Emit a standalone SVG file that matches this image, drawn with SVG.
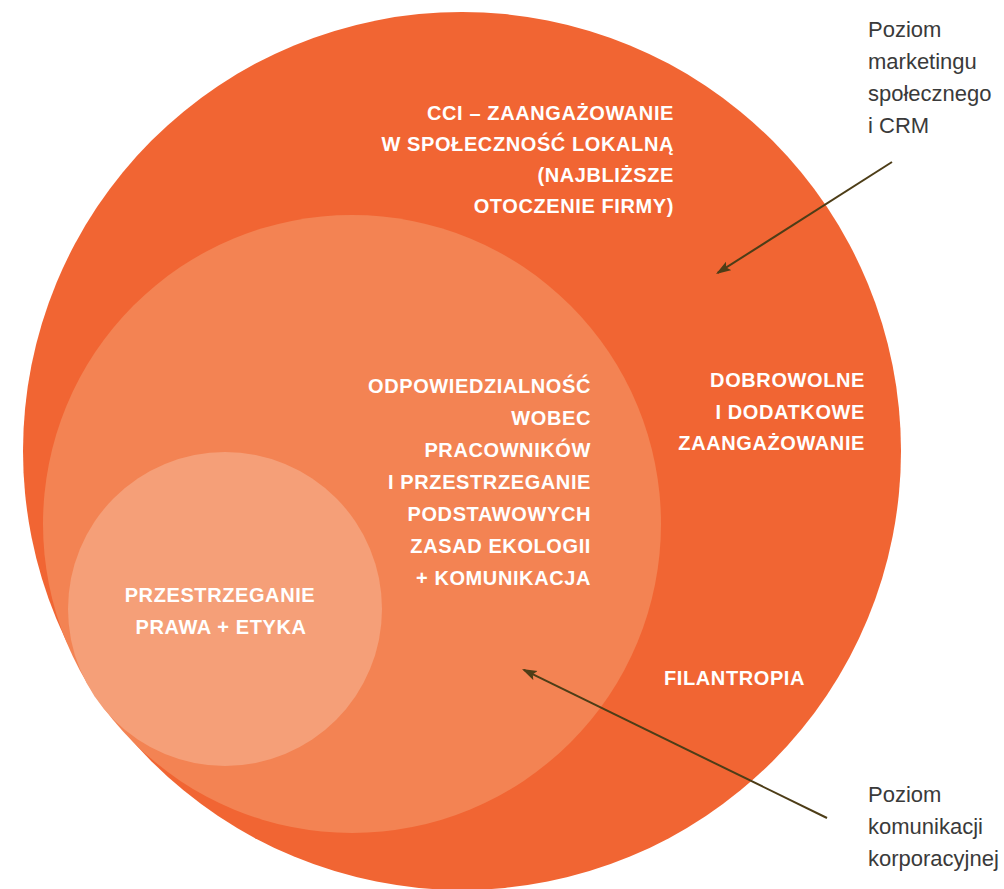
<svg xmlns="http://www.w3.org/2000/svg" width="1004" height="889" viewBox="0 0 1004 889">
  <style>
    .lbl { font-family: "Liberation Sans", Arial, Helvetica, sans-serif; font-weight: bold; font-size: 20px; fill: #ffffff; letter-spacing: 0.6px; }
    .end { text-anchor: end; }
    .mid { text-anchor: middle; }
    .note { font-family: "Liberation Sans", Arial, Helvetica, sans-serif; font-size: 22px; fill: #3a3a3a; }
    .conn { stroke: #4d3d17; stroke-width: 2; fill: none; }
  </style>
  <defs>
    <marker id="arrow" markerUnits="userSpaceOnUse" markerWidth="16" markerHeight="12" refX="13" refY="5" orient="auto">
      <path d="M0,0 L15,5 L0,10 L3,5 z" fill="#4d3d17"/>
    </marker>
  </defs>
  <rect width="1004" height="889" fill="#ffffff"/>

  <g id="outer-circle">
    <circle cx="462" cy="451" r="439" fill="#F16533"/>
    <text class="lbl end" x="674" y="120">CCI – ZAANGAŻOWANIE</text>
    <text class="lbl end" x="674" y="151">W SPOŁECZNOŚĆ LOKALNĄ</text>
    <text class="lbl end" x="674" y="182">(NAJBLIŻSZE</text>
    <text class="lbl end" x="674" y="213">OTOCZENIE FIRMY)</text>
    <text class="lbl end" x="865" y="387">DOBROWOLNE</text>
    <text class="lbl end" x="865" y="419">I DODATKOWE</text>
    <text class="lbl end" x="865" y="450">ZAANGAŻOWANIE</text>
    <text class="lbl" x="664" y="685">FILANTROPIA</text>
  </g>

  <g id="middle-circle">
    <circle cx="352" cy="524" r="309" fill="#F38353"/>
    <text class="lbl end" x="591" y="393">ODPOWIEDZIALNOŚĆ</text>
    <text class="lbl end" x="591" y="425">WOBEC</text>
    <text class="lbl end" x="591" y="457">PRACOWNIKÓW</text>
    <text class="lbl end" x="591" y="489">I PRZESTRZEGANIE</text>
    <text class="lbl end" x="591" y="521">PODSTAWOWYCH</text>
    <text class="lbl end" x="591" y="553">ZASAD EKOLOGII</text>
    <text class="lbl end" x="591" y="585">+ KOMUNIKACJA</text>
  </g>

  <g id="inner-circle">
    <circle cx="225" cy="609" r="157" fill="#F59F78"/>
    <text class="lbl mid" x="220" y="602">PRZESTRZEGANIE</text>
    <text class="lbl mid" x="221" y="634">PRAWA + ETYKA</text>
  </g>

  <g id="note-marketing">
    <text class="note" x="868" y="37">Poziom</text>
    <text class="note" x="868" y="69">marketingu</text>
    <text class="note" x="868" y="101">społecznego</text>
    <text class="note" x="868" y="133">i CRM</text>
  </g>

  <g id="note-komunikacja">
    <text class="note" x="868" y="802">Poziom</text>
    <text class="note" x="868" y="834">komunikacji</text>
    <text class="note" x="868" y="866">korporacyjnej</text>
  </g>

  <g id="connectors">
    <line class="conn" x1="892" y1="162" x2="717.7" y2="272.9" marker-end="url(#arrow)"/>
    <line class="conn" x1="827" y1="818" x2="523.8" y2="669.9" marker-end="url(#arrow)"/>
  </g>
</svg>
